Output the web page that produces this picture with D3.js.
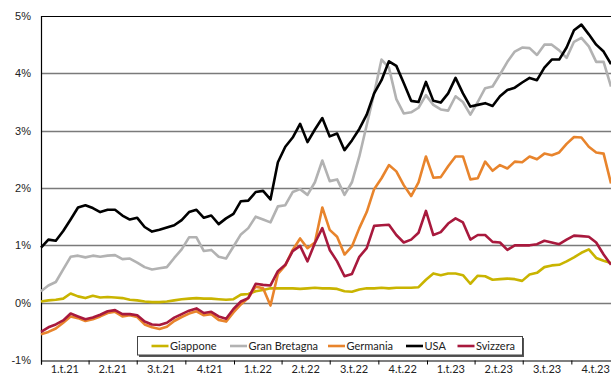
<!DOCTYPE html>
<html>
<head>
<meta charset="utf-8">
<script src="https://cdn.jsdelivr.net/npm/d3@7"></script>
<style>
  body { margin: 0; background: #fff; }
  svg { display: block; }
</style>
</head>
<body>
<svg id="chart" width="611" height="374"></svg>
<script>
// data: fortnightly observations from 1 Jan 2021, in %
const startDate = new Date(2021, 0, 1);
const stepDays = 14;

const giappone = [0.02, 0.04, 0.05, 0.07, 0.16, 0.11, 0.08, 0.12, 0.09, 0.10, 0.09, 0.08, 0.05, 0.04, 0.02, 0.01,
  0.01, 0.02, 0.04, 0.06, 0.07, 0.08, 0.07, 0.07, 0.06, 0.05, 0.06, 0.14, 0.15, 0.20, 0.22, 0.25,
  0.25, 0.25, 0.25, 0.24, 0.25, 0.26, 0.25, 0.25, 0.24, 0.20, 0.19, 0.23, 0.25, 0.25, 0.26, 0.25,
  0.26, 0.26, 0.26, 0.27, 0.40, 0.51, 0.48, 0.51, 0.51, 0.48, 0.33, 0.47, 0.46, 0.40, 0.41, 0.42,
  0.41, 0.38, 0.49, 0.52, 0.62, 0.65, 0.66, 0.72, 0.79, 0.87, 0.93, 0.78, 0.73, 0.69];

const granBretagna = [0.20, 0.30, 0.36, 0.58, 0.80, 0.82, 0.79, 0.82, 0.80, 0.82, 0.83, 0.76, 0.77, 0.70, 0.62, 0.58,
  0.60, 0.62, 0.78, 0.93, 1.14, 1.14, 0.90, 0.92, 0.80, 0.77, 0.98, 1.19, 1.30, 1.50, 1.45, 1.40,
  1.68, 1.70, 1.93, 1.98, 1.88, 2.10, 2.48, 2.12, 2.15, 1.88, 2.10, 2.55, 3.10, 3.65, 4.24, 4.10,
  3.55, 3.30, 3.32, 3.40, 3.62, 3.45, 3.37, 3.35, 3.60, 3.50, 3.28, 3.50, 3.74, 3.77, 3.98, 4.20,
  4.38, 4.45, 4.44, 4.32, 4.50, 4.50, 4.40, 4.27, 4.55, 4.62, 4.47, 4.20, 4.20, 3.77];

const germania = [-0.55, -0.51, -0.45, -0.35, -0.24, -0.27, -0.32, -0.29, -0.24, -0.18, -0.16, -0.24, -0.22, -0.25, -0.38, -0.43,
  -0.46, -0.42, -0.32, -0.25, -0.19, -0.15, -0.22, -0.20, -0.30, -0.33, -0.17, -0.03, 0.08, 0.28, 0.25, -0.05,
  0.50, 0.65, 0.92, 1.12, 0.95, 1.05, 1.66, 1.27, 1.15, 0.84, 0.98, 1.30, 1.58, 1.98, 2.17, 2.40,
  2.29, 2.05, 1.86, 2.10, 2.55, 2.18, 2.19, 2.38, 2.55, 2.55, 2.15, 2.17, 2.46, 2.30, 2.40, 2.34,
  2.46, 2.45, 2.55, 2.50, 2.60, 2.57, 2.62, 2.77, 2.89, 2.88, 2.72, 2.62, 2.60, 2.08];

const usa = [0.96, 1.10, 1.08, 1.25, 1.45, 1.66, 1.70, 1.65, 1.58, 1.62, 1.62, 1.52, 1.45, 1.48, 1.32, 1.24,
  1.27, 1.31, 1.35, 1.44, 1.58, 1.62, 1.48, 1.52, 1.37, 1.47, 1.55, 1.77, 1.78, 1.93, 1.95, 1.80,
  2.45, 2.72, 2.88, 3.12, 2.80, 3.02, 3.22, 2.90, 2.95, 2.66, 2.83, 3.03, 3.28, 3.65, 3.88, 4.21,
  4.13, 3.83, 3.52, 3.50, 3.85, 3.52, 3.49, 3.65, 3.92, 3.65, 3.42, 3.45, 3.48, 3.43, 3.60, 3.71,
  3.75, 3.84, 3.92, 3.88, 4.10, 4.24, 4.24, 4.45, 4.75, 4.85, 4.68, 4.50, 4.38, 4.16];

const svizzera = [-0.51, -0.43, -0.38, -0.31, -0.19, -0.24, -0.29, -0.26, -0.21, -0.15, -0.13, -0.20, -0.20, -0.22, -0.33, -0.38,
  -0.39, -0.35, -0.26, -0.20, -0.14, -0.10, -0.18, -0.16, -0.24, -0.28, -0.11, 0.02, 0.08, 0.33, 0.31, 0.30,
  0.55, 0.66, 0.90, 0.99, 0.72, 1.04, 1.30, 0.92, 0.72, 0.46, 0.50, 0.80, 0.95, 1.34, 1.35, 1.36,
  1.18, 1.05, 1.10, 1.22, 1.60, 1.18, 1.23, 1.38, 1.47, 1.40, 1.10, 1.18, 1.18, 1.06, 1.05, 0.92,
  1.00, 1.00, 1.00, 1.02, 1.08, 1.05, 1.02, 1.10, 1.17, 1.16, 1.15, 1.05, 0.84, 0.66];

const seriesNames = ['Giappone', 'Gran Bretagna', 'Germania', 'USA', 'Svizzera'];
const seriesColors = ['#c9b400', '#b2b2b2', '#e8842c', '#000000', '#a8193d'];
const seriesValues = [giappone, granBretagna, germania, usa, svizzera];

const quarterLabels = ['1.t.21', '2.t.21', '3.t.21', '4.t21', '1.t.22', '2.t.22', '3.t.22', '4.t.22', '1.t.23', '2.t.23', '3.t.23', '4.t.23'];
const yTicks = [-1, 0, 1, 2, 3, 4, 5];

const dates = giappone.map((d, i) => d3.timeDay.offset(startDate, i * stepDays));

const svg = d3.select('#chart');
const plotLeft = 41, plotRight = 620, plotTop = 16, plotBottom = 360;

const x = d3.scaleTime()
    .domain([new Date(2021, 0, 1), new Date(2024, 0, 1)])
    .range([plotLeft, plotRight]);
const y = d3.scaleLinear().domain([-1, 5]).range([plotBottom, plotTop]);

// gridlines
svg.append('g')
    .selectAll('line')
    .data(yTicks.filter(t => t > -1))
    .join('line')
    .attr('x1', plotLeft).attr('x2', 611)
    .attr('y1', d => Math.round(y(d)) + 0.5).attr('y2', d => Math.round(y(d)) + 0.5)
    .attr('stroke', d => d === 5 ? '#000' : '#7a7a7a')
    .attr('stroke-width', d => d === 5 ? 1.2 : 1.4);

// y labels
svg.append('g')
    .selectAll('text')
    .data(yTicks)
    .join('text')
    .attr('x', 31)
    .attr('y', d => y(d) + 4)
    .attr('text-anchor', 'end')
    .style('font', '11px "Liberation Sans", Arial, sans-serif')
    .attr('fill', '#222')
    .text(d => d + '%');

// x axis
const quarterStarts = d3.timeMonth.every(3).range(new Date(2021, 0, 1), new Date(2024, 0, 2));
const xAxis = d3.axisBottom(x)
    .tickValues(quarterStarts)
    .tickSize(4)
    .tickFormat('');
svg.append('g')
    .attr('transform', `translate(0 ${Math.round(plotBottom) + 0.5})`)
    .call(xAxis)
    .call(g => g.select('.domain').attr('stroke', '#000').attr('stroke-width', 1.2))
    .call(g => g.selectAll('.tick line').attr('stroke', '#000'));

svg.append('g')
    .selectAll('text')
    .data(quarterLabels)
    .join('text')
    .attr('x', (d, i) => (x(quarterStarts[i]) + x(quarterStarts[i + 1])) / 2)
    .attr('y', 373)
    .attr('text-anchor', 'middle')
    .style('font', '11px Lato, "Open Sans", sans-serif')
    .attr('fill', '#222')
    .text(d => d);

// left axis
svg.append('line')
    .attr('x1', plotLeft + 0.5).attr('x2', plotLeft + 0.5)
    .attr('y1', plotTop).attr('y2', plotBottom + 1)
    .attr('stroke', '#000').attr('stroke-width', 1.2);

// lines
const line = d3.line()
    .x((d, i) => x(dates[i]))
    .y(d => y(d));

svg.append('g')
    .selectAll('path')
    .data(seriesValues)
    .join('path')
    .attr('fill', 'none')
    .attr('stroke', (d, i) => seriesColors[i])
    .attr('stroke-width', 2.6)
    .attr('stroke-linejoin', 'round')
    .attr('d', line);

// legend
const legend = svg.append('g');
legend.append('rect')
    .attr('x', 139).attr('y', 338).attr('width', 385).attr('height', 19)
    .attr('fill', '#555');
legend.append('rect')
    .attr('x', 137.5).attr('y', 336.5).attr('width', 385).attr('height', 18.5)
    .attr('fill', '#fff').attr('stroke', '#444').attr('stroke-width', 1);

const legendX = [151.5, 230, 328, 406, 457.5];
const item = legend.selectAll('g.item')
    .data(seriesNames)
    .join('g')
    .attr('class', 'item')
    .attr('transform', (d, i) => `translate(${legendX[i]} 0)`);
item.append('line')
    .attr('x1', 0).attr('x2', 17)
    .attr('y1', 346).attr('y2', 346)
    .attr('stroke', (d, i) => seriesColors[i])
    .attr('stroke-width', 2.6);
item.append('text')
    .attr('x', 18.5)
    .attr('y', 349.5)
    .style('font', '11px Lato, "Open Sans", sans-serif')
    .attr('fill', '#222')
    .text(d => d);
</script>
</body>
</html>
